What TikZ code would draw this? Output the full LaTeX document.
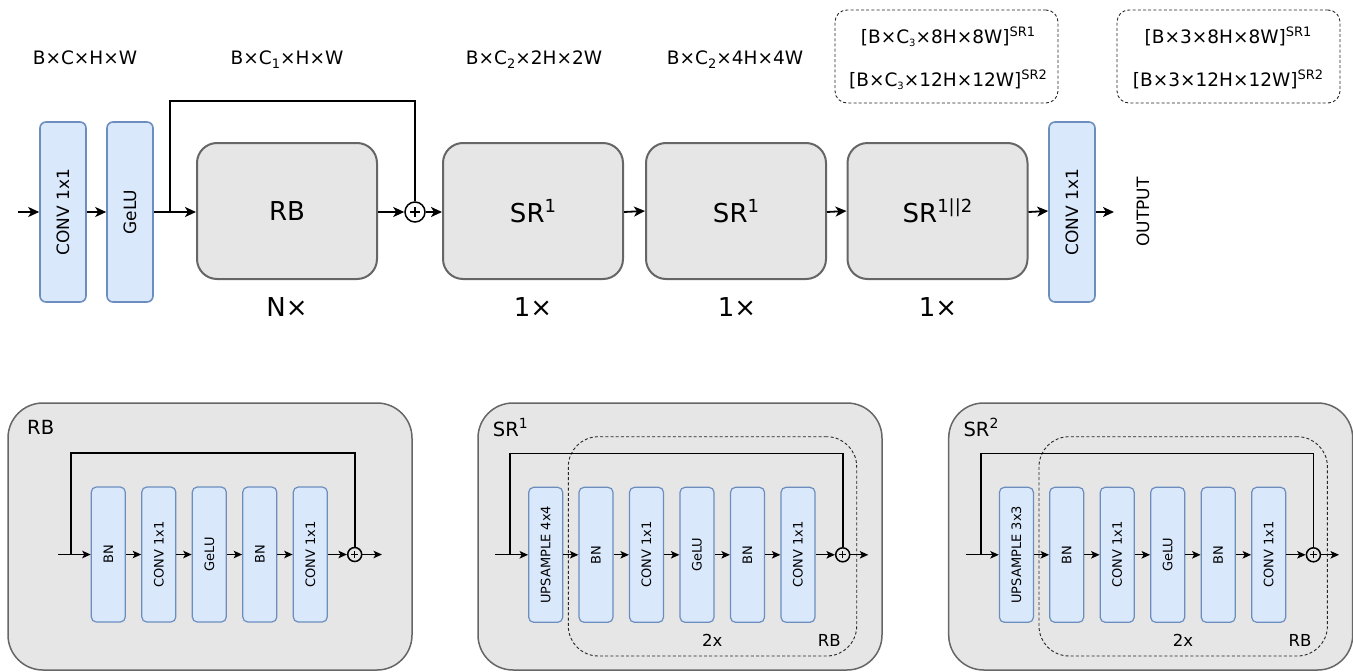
\documentclass[tikz,border=0pt]{standalone}
\usepackage{fontspec}
\setmainfont{DejaVu Sans}
\usetikzlibrary{arrows.meta,calc}
\definecolor{bF}{HTML}{DAE8FC}
\definecolor{bD}{HTML}{6C8EBF}
\definecolor{gF}{HTML}{E6E6E6}
\definecolor{gD}{HTML}{666666}
\newcommand\fsz[1]{\fontsize{#1}{#1}\selectfont}
\newcommand\supx[3]{\raisebox{#2pt}{\fsz{#1}#3}}
\newcommand\subx[3]{\raisebox{-#2pt}{\fsz{#1}#3}}
\begin{document}
\begin{tikzpicture}[x=1pt,y=-1pt,
  tblk/.style={draw=bD, fill=bF, line width=1.6pt, rounded corners=6pt, minimum width=46pt, minimum height=180pt, inner sep=0pt, font=\fsz{17}},
  bigbox/.style={draw=gD, fill=gF, line width=2pt, rounded corners=20pt, minimum width=180pt, minimum height=136pt, inner sep=0pt, font=\fsz{26}},
  sblk/.style={draw=bD, fill=bF, line width=1.2pt, rounded corners=5pt, minimum width=34pt, minimum height=135pt, inner sep=0pt, font=\fsz{13}},
  panel/.style={draw=gD, fill=gF, line width=1.5pt, rounded corners=35pt, inner sep=0pt},
  dbox/.style={draw=black!85, dash pattern=on 3pt off 2.2pt, line width=0.9pt, inner sep=0pt},
  flow/.style={line width=1.8pt, -{Stealth[length=11pt,width=10pt,inset=3pt]}},
  sflow/.style={line width=1.3pt, -{Stealth[length=8.5pt,width=7.5pt,inset=2pt]}},
  skipline/.style={line width=1.9pt},
  sskipline/.style={line width=1.6pt},
  plusc/.style={circle, draw, line width=1.5pt, minimum size=#1, inner sep=0pt,
    path picture={\draw[line width=1.3pt] ($(path picture bounding box.center)+(-#1*0.26,0)$) -- ($(path picture bounding box.center)+(#1*0.26,0)$)
      ($(path picture bounding box.center)+(0,-#1*0.26)$) -- ($(path picture bounding box.center)+(0,#1*0.26)$);}},
  lbl/.style={inner sep=0pt, anchor=base},
]
\useasboundingbox (0,0) rectangle (1353,672);

% ---------- top row ----------
\node[lbl, font=\fsz{18.5}] (d0) at (85,64) {B×C×H×W};
\node[lbl, font=\fsz{18.5}] (d1) at (287,64) {B×C\subx{13}{4}{1}×H×W};
\node[lbl, font=\fsz{18.5}] (d2) at (534,64) {B×C\subx{13}{4}{2}×2H×2W};
\node[lbl, font=\fsz{18.5}] (d3) at (735,64) {B×C\subx{13}{4}{2}×4H×4W};

\node[dbox, rounded corners=12pt, minimum width=223pt, minimum height=93pt] (db1) at (946.5,56.5) {};
\node[lbl, font=\fsz{18.5}] (d4a) at (948,43) {[B×C\subx{10}{3}{3}×8H×8W]\supx{13}{7}{SR1}};
\node[lbl, font=\fsz{18.5}] (d4b) at (948,86) {[B×C\subx{10}{3}{3}×12H×12W]\supx{13}{7}{SR2}};
\node[dbox, rounded corners=12pt, minimum width=223pt, minimum height=93pt] (db2) at (1228.5,56.5) {};
\node[lbl, font=\fsz{18.5}] (d5a) at (1228,43) {[B×3×8H×8W]\supx{13}{7}{SR1}};
\node[lbl, font=\fsz{18.5}] (d5b) at (1228,86) {[B×3×12H×12W]\supx{13}{7}{SR2}};

\coordinate (in) at (18,212);
\node[tblk] (c1) at (63,212) {\rotatebox{90}{CONV 1x1}};
\node[tblk] (ge) at (130,212) {\rotatebox{90}{GeLU}};
\node[bigbox] (rb) at (287,211) {RB};
\node[plusc=20pt] (pl) at (415,212) {};
\node[bigbox] (s1) at (533,211) {SR\supx{18}{10}{1}};
\node[bigbox] (s2) at (736,211) {SR\supx{18}{10}{1}};
\node[bigbox] (s3) at (937.5,211) {SR\supx{18}{10}{1||2}};
\node[tblk] (c2) at (1072,212) {\rotatebox{90}{CONV 1x1}};
\node[font=\fsz{17}, inner sep=0pt] (out) at (1143,212) {\rotatebox{90}{OUTPUT}};
\coordinate (outa) at (1114,212);

\node[lbl, font=\fsz{26}] (n0) at (287,316) {N×};
\node[lbl, font=\fsz{26}] (n1) at (533,316) {1×};
\node[lbl, font=\fsz{26}] (n2) at (737,316) {1×};
\node[lbl, font=\fsz{26}] (n3) at (938,316) {1×};

\draw[flow] (in) -- (c1.west);
\draw[flow] (c1.east) -- (ge.west);
\draw[flow] (ge.east) -- (ge.east -| rb.west);
\coordinate (br) at (170,212);
\coordinate (skT) at (415,101);
\draw[skipline] (br) |- (skT) -- (pl.north);
\draw[flow] (rb.east |- pl.west) -- (pl.west);
\draw[flow] (pl.east) -- (pl.east -| s1.west);
\draw[flow] (s1.east |- pl.west) -- (s1.east -| s2.west);
\draw[flow] (s2.east |- pl.west) -- (s2.east -| s3.west);
\draw[flow] (s3.east |- pl.west) -- (s3.east -| c2.west);
\draw[flow] (c2.east) -- (outa);

% ---------- bottom: RB panel ----------
\node[panel, minimum width=404pt, minimum height=267pt] (prb) at (210,536.5) {};
\node[anchor=base west, inner sep=0pt, font=\fsz{19.5}] (trb) at (27,434) {RB};
\node[sblk] (r1) at (108.3,554.5) {\rotatebox{90}{BN}};
\node[sblk] (r2) at (158.8,554.5) {\rotatebox{90}{CONV 1x1}};
\node[sblk] (r3) at (209.3,554.5) {\rotatebox{90}{GeLU}};
\node[sblk] (r4) at (259.8,554.5) {\rotatebox{90}{BN}};
\node[sblk] (r5) at (310.3,554.5) {\rotatebox{90}{CONV 1x1}};
\node[plusc=14pt] (rp) at (354.7,554.5) {};
\coordinate (rin) at (58,554.5);
\coordinate (rbr) at (71,554.5);
\coordinate (rtop) at (354.7,453);
\coordinate (rout) at (382,554.5);
\draw[sflow] (rin) -- (r1.west);
\draw[sflow] (r1.east) -- (r2.west);
\draw[sflow] (r2.east) -- (r3.west);
\draw[sflow] (r3.east) -- (r4.west);
\draw[sflow] (r4.east) -- (r5.west);
\draw[sflow] (r5.east) -- (rp.west);
\draw[sflow] (rp.east) -- (rout);
\draw[sskipline] (rbr) |- (rtop) -- (rp.north);

% ---------- bottom: SR panels ----------
\foreach \p/\dx/\n/\up in {a/0/1/4x4, b/470.7/2/3x3}{
\begin{scope}[xshift=\dx pt]
\node[panel, minimum width=404pt, minimum height=267pt] (\p-panel) at (680,536.5) {};
\node[dbox, rounded corners=30pt, minimum width=288.4pt, minimum height=219.3pt] (\p-rb) at (712.5,546.35) {};
\node[anchor=base west, inner sep=0pt, font=\fsz{19.5}] (\p-title) at (492.7,436) {SR\supx{14}{8}{\n}};
\node[lbl, font=\fsz{16.5}] (\p-two) at (712.3,646) {2x};
\node[lbl, font=\fsz{16.5}] (\p-rbl) at (829.3,646) {RB};
\node[sblk] (\p-u) at (545.7,554.8) {\rotatebox{90}{UPSAMPLE \up}};
\node[sblk] (\p-1) at (596,554.8) {\rotatebox{90}{BN}};
\node[sblk] (\p-2) at (646.5,554.8) {\rotatebox{90}{CONV 1x1}};
\node[sblk] (\p-3) at (697,554.8) {\rotatebox{90}{GeLU}};
\node[sblk] (\p-4) at (747.5,554.8) {\rotatebox{90}{BN}};
\node[sblk] (\p-5) at (798,554.8) {\rotatebox{90}{CONV 1x1}};
\node[plusc=14pt] (\p-p) at (842.7,554.8) {};
\coordinate (\p-in) at (495,554.8);
\coordinate (\p-br) at (510,554.8);
\coordinate (\p-top) at (842.7,453.3);
\coordinate (\p-out) at (868.3,554.8);
\draw[sflow] (\p-in) -- (\p-u.west);
\draw[sflow] (\p-u.east) -- (\p-1.west);
\draw[sflow] (\p-1.east) -- (\p-2.west);
\draw[sflow] (\p-2.east) -- (\p-3.west);
\draw[sflow] (\p-3.east) -- (\p-4.west);
\draw[sflow] (\p-4.east) -- (\p-5.west);
\draw[sflow] (\p-5.east) -- (\p-p.west);
\draw[sflow] (\p-p.east) -- (\p-out);
\draw[sskipline] (\p-br) |- (\p-top) -- (\p-p.north);
\end{scope}
}
\end{tikzpicture}
\end{document}
